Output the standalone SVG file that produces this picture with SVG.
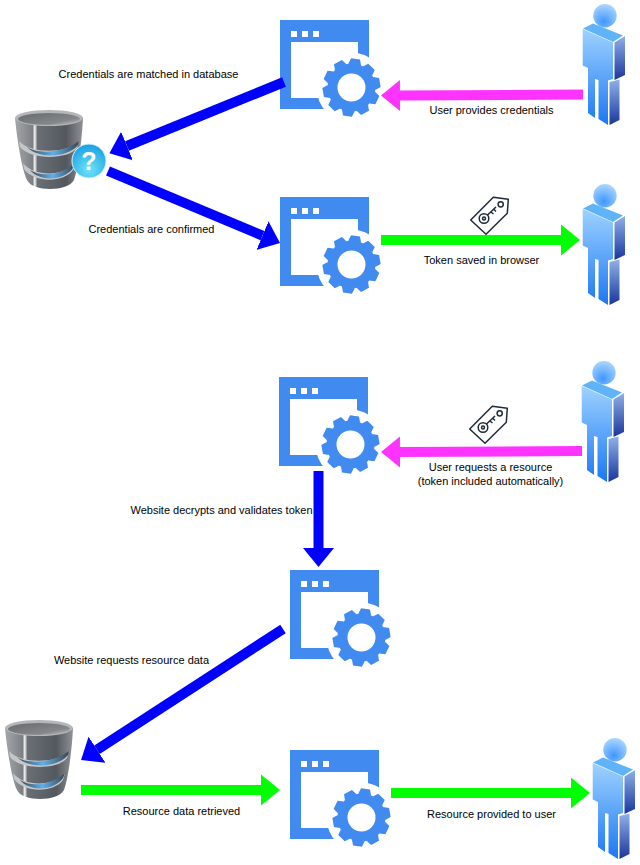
<svg xmlns="http://www.w3.org/2000/svg" xmlns:xlink="http://www.w3.org/1999/xlink" width="640" height="865" viewBox="0 0 640 865">
<style>
text{font-family:"Liberation Sans",Arial,sans-serif;font-size:11px;fill:#000;text-anchor:middle}
.blue{stroke:#0000ff;stroke-width:10;fill:none}
.mag{stroke:#ff33ff;stroke-width:10;fill:none}
.grn{stroke:#00ff00;stroke-width:10;fill:none}
.tagl{fill:none;stroke:#1f2a3a;stroke-width:1.5;stroke-linejoin:round}
.g{fill:#418bf0}
</style>
<defs>
<marker id="hb" markerUnits="userSpaceOnUse" markerWidth="20" markerHeight="32" refX="0" refY="16" orient="auto"><path d="M0 .5L19 16L0 31.500Z" fill="#0000ff"/></marker>
<marker id="hm" markerUnits="userSpaceOnUse" markerWidth="20" markerHeight="32" refX="0" refY="16" orient="auto"><path d="M0 .5L19 16L0 31.500Z" fill="#ff33ff"/></marker>
<marker id="hg" markerUnits="userSpaceOnUse" markerWidth="20" markerHeight="32" refX="0" refY="16" orient="auto"><path d="M0 .5L19 16L0 31.500Z" fill="#00ff00"/></marker>
<linearGradient id="pf" x1="0" y1="0" x2="0" y2="1"><stop offset="0" stop-color="#9fd2ff"/><stop offset="1" stop-color="#1a78f5"/></linearGradient>
<linearGradient id="ps" x1="0" y1="0" x2="0" y2="1"><stop offset="0" stop-color="#8fb0e8"/><stop offset="1" stop-color="#1a369c"/></linearGradient>
<radialGradient id="ph" cx=".45" cy=".75" r=".8"><stop offset="0" stop-color="#3f96ff"/><stop offset="1" stop-color="#b4dcff"/></radialGradient>
<linearGradient id="dbb" x1="0" y1="0" x2="1" y2="0"><stop offset="0" stop-color="#a4a7aa"/><stop offset=".26" stop-color="#7c8084"/><stop offset=".29" stop-color="#f5f5f5"/><stop offset=".33" stop-color="#6a6f75"/><stop offset=".75" stop-color="#53585e"/><stop offset="1" stop-color="#8f9296"/></linearGradient>
<linearGradient id="dbt" x1="0" y1="0" x2="1" y2="1"><stop offset="0" stop-color="#66696d"/><stop offset=".7" stop-color="#85888b"/><stop offset="1" stop-color="#c9cacc"/></linearGradient>
<linearGradient id="dbg" x1="0" y1="0" x2="1" y2="0"><stop offset="0" stop-color="#3b4650"/><stop offset=".5" stop-color="#5fb0ea"/><stop offset="1" stop-color="#3b4650"/></linearGradient>
<radialGradient id="qb" cx=".5" cy=".75" r=".8"><stop offset="0" stop-color="#6fe4fa"/><stop offset="1" stop-color="#129ae0"/></radialGradient>
<path id="th" class="g" d="M-6.500 -23L-4.500 -28.800L4.500 -28.800L6.500 -23Z"/>
<g id="gear">
<circle r="19" fill="none" stroke="#418bf0" stroke-width="10"/>
<use href="#th" transform="rotate(8)"/><use href="#th" transform="rotate(44)"/><use href="#th" transform="rotate(80)"/><use href="#th" transform="rotate(116)"/><use href="#th" transform="rotate(152)"/><use href="#th" transform="rotate(188)"/><use href="#th" transform="rotate(224)"/><use href="#th" transform="rotate(260)"/><use href="#th" transform="rotate(296)"/><use href="#th" transform="rotate(332)"/>
</g>
<g id="win">
<rect x="0" y="0" width="89" height="89" fill="#418bf0"/>
<rect x="11" y="22" width="67" height="56" fill="#fff"/>
<rect x="11" y="11" width="6" height="6" fill="#fff"/><rect x="22" y="11" width="6" height="6" fill="#fff"/><rect x="33" y="11" width="6" height="6" fill="#fff"/>
<circle cx="71.500" cy="67.500" r="35" fill="#fff"/>
<use href="#gear" x="71.500" y="67.500"/>
</g>
<g id="man">
<circle cx="23" cy="10.7" r="11.7" fill="url(#ph)"/>
<path d="M1 23.500L11 18.500L41 30.500L31 37Z" fill="#5fb4f8"/>
<path d="M0.700 24L31 37.500V74L26 75.500V120L16.500 114L16.500 75L13 74V113L6 108V63L0.700 60.500Z" fill="url(#pf)"/>
<path d="M32.500 37.500L43 31V70L32.500 75Z" fill="url(#ps)"/>
<path d="M27.500 77L37.500 74.500V115L27.500 120Z" fill="url(#ps)"/>
</g>
<g id="cyl">
<path d="M15 118C17 140 22 170 27 180C32 192 68 192 74 180C78 170 82 140 83 118Z" fill="url(#dbb)"/>
<path d="M19 141C30 154 68 154 79 141L77 148C68 160 30 160 20 147Z" fill="#c4c6c9"/>
<path d="M23 163C34 177 64 177 75 163L73 170C64 183 34 183 24 169Z" fill="#c4c6c9"/>
<path d="M27 147C36 154 62 154 79 141L78 145C68 158 38 159 27 147Z" fill="url(#dbg)"/>
<path d="M30 170C40 177 60 176 75 163L73 168C64 181 40 182 30 170Z" fill="url(#dbg)"/>
<ellipse cx="49" cy="118" rx="34" ry="8" fill="#b4b6b9"/>
<ellipse cx="49" cy="119" rx="31" ry="6" fill="url(#dbt)"/>
</g>
<g id="tag">
<path class="tagl" d="M470.700 220L493.300 197.300L508.300 199.300L507.300 213.300L486 234.300Z"/>
<circle class="tagl" cx="500.700" cy="204.300" r="2.600"/>
<circle class="tagl" cx="484" cy="218.500" r="4.800"/>
<circle class="tagl" cx="484" cy="218.500" r="1.500"/>
<path class="tagl" d="M487.500 215L496 207M491 212L493.500 214M494 209.500L496 211.500"/>
</g>
</defs>
<g id="app1"><use href="#win" x="280" y="20"/></g>
<g id="app2"><use href="#win" x="280" y="197"/></g>
<g id="app3"><use href="#win" x="279" y="377"/></g>
<g id="app4"><use href="#win" x="290" y="570"/></g>
<g id="app5"><use href="#win" x="290" y="750"/></g>
<g id="user1"><use href="#man" x="582" y="5"/></g>
<g id="user2"><use href="#man" x="582" y="185"/></g>
<g id="user3"><use href="#man" x="581" y="362"/></g>
<g id="user4"><use href="#man" x="592" y="739"/></g>
<g id="db1"><use href="#cyl"/>
<circle cx="89" cy="161" r="17" fill="url(#qb)" stroke="#d8f4fc" stroke-width="1"/>
<text x="89" y="170" style="font-size:25px;font-weight:bold;fill:#fff">?</text></g>
<g id="db2"><use href="#cyl" x="-10" y="610"/></g>
<g id="token1"><use href="#tag"/></g>
<g id="token2"><use href="#tag" x="-1" y="209"/></g>
<g id="connectors">
<path class="blue" d="M284 82L127 146" marker-end="url(#hb)"/>
<path class="blue" d="M108 171L262.500 235.600" marker-end="url(#hb)"/>
<path class="mag" d="M583 94.500L400 95.500" marker-end="url(#hm)"/>
<path class="grn" d="M381 240H561" marker-end="url(#hg)"/>
<path class="mag" d="M582 451L400 452" marker-end="url(#hm)"/>
<path class="blue" d="M318.500 471V548" marker-end="url(#hb)"/>
<path class="blue" d="M283 629L97 749.700" marker-end="url(#hb)"/>
<path class="grn" d="M81 790H261" marker-end="url(#hg)"/>
<path class="grn" d="M391 793H571" marker-end="url(#hg)"/>
</g>
<g id="labels">
<text x="148.500" y="78">Credentials are matched in database</text>
<text x="491.500" y="114">User provides credentials</text>
<text x="151.500" y="233">Credentials are confirmed</text>
<text x="481.500" y="264">Token saved in browser</text>
<text x="490.500" y="471">User requests a resource</text>
<text x="490.500" y="485">(token included automatically)</text>
<text x="221.500" y="514">Website decrypts and validates token</text>
<text x="131.500" y="664">Website requests resource data</text>
<text x="181.500" y="815">Resource data retrieved</text>
<text x="491.500" y="818">Resource provided to user</text>
</g>
</svg>
